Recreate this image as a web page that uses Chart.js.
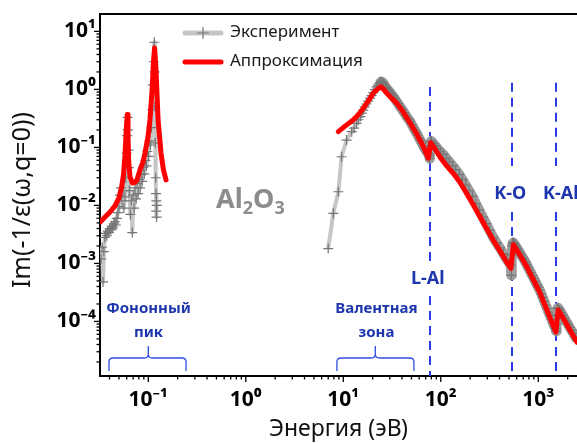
<!DOCTYPE html>
<html><head><meta charset="utf-8">
<script src="https://cdn.jsdelivr.net/npm/chart.js@4.4.0/dist/chart.umd.min.js"></script>
<style>html,body{margin:0;padding:0;background:#fff;overflow:hidden}#wrap{width:577px;height:443px}</style>
</head><body><div id="wrap"><canvas id="c" width="577" height="443"></canvas></div>
<script>
const FONT = "'Noto Sans', 'DejaVu Sans', sans-serif";

// axis ranges and tick labels
const X_MIN = 0.03196, X_MAX = 2494;
const Y_MIN = 1.146e-5, Y_MAX = 19.95;
const xTickValues = [0.1, 1, 10, 100, 1000];
const xTickLabels = ['10⁻¹', '10⁰', '10¹', '10²', '10³'];
const yTickValues = [0.0001, 0.001, 0.01, 0.1, 1, 10];
const yTickLabels = ['10⁻⁴', '10⁻³', '10⁻²', '10⁻¹', '10⁰', '10¹'];
const xTitle = 'Энергия (эВ)';
const yTitle = 'Im(-1/ε(ω,q=0))';

// Experiment (phonon region)
const expPhononE = [0.0328,0.0336,0.0343,0.0350,0.0358,0.0366,0.0375,0.0384,0.0393,0.0402,0.0412,0.0422,0.0432,0.0443,0.0454,0.0465,0.0476,0.0488,0.0500,0.0512,0.0524,0.0536,0.0549,0.0562,0.0575,0.0588,0.0600,0.0606,0.0612,0.0618,0.0624,0.0630,0.0640,0.0655,0.0670,0.0685,0.0700,0.0716,0.0732,0.0750,0.0768,0.0786,0.0805,0.0825,0.0845,0.0866,0.0888,0.0910,0.0933,0.0957,0.0980,0.1004,0.1028,0.1052,0.1077,0.1100,0.1120,0.1135,0.1150,0.1160,0.1170,0.1180,0.1190,0.1200,0.1205,0.1210,0.1215,0.1220];
const expPhononV = [0.0012,0.0019,0.00048,0.0016,0.0028,0.0033,0.0030,0.0036,0.0034,0.0040,0.0038,0.0044,0.0041,0.0048,0.0052,0.0046,0.0060,0.0075,0.0095,0.0150,0.0200,0.0120,0.0180,0.0090,0.0140,0.030,0.080,0.16,0.33,0.20,0.09,0.045,0.018,0.0070,0.0120,0.0034,0.0150,0.0090,0.0200,0.0130,0.0240,0.0160,0.028,0.020,0.034,0.026,0.045,0.035,0.060,0.048,0.085,0.070,0.13,0.11,0.22,0.45,1.2,3.0,6.5,2.0,0.50,0.12,0.030,0.016,0.008,0.012,0.0063,0.010];

// Experiment (valence + core region)
const expValenceE = [
  7.0,7.9,8.9,9.6,10.8,12.2,12.9,13.7,14.3,15.0,
  15.5,16.0,16.6,17.3,18.0,18.8,19.5,20.3,21.1,22.0,
  22.6,23.2,23.8,24.4,25.0,25.6,26.3,27.0,27.7,28.5,
  29.2,30.0,31.0,32.0,33.0,34.0,35.2,36.5,37.7,39.0,
  40.5,42.0,43.5,45.0,46.7,48.5,50.2,52.0,54.0,56.0,
  58.0,60.0,62.0,64.0,66.0,68.0,70.0,72.0,73.5,75.0,
  76.0,77.0,77.8,78.5,80,84,88,93,99,106,
  114,122,132,142,154,166,180,195,211,229,
  248,269,292,317,344,373,404,438,475,505,
  520,528,534,540,545,555,566,580,595,610,
  628,648,668,690,712,735,760,785,812,840,
  870,900,932,965,1000,1035,1072,1110,1150,1190,
  1232,1275,1320,1367,1415,1465,1500,1520,1535,1550,
  1570,1600,1650,1710,1780,1850,1930,2010,2100,2190,
  2290,2400,2500];
const expValenceV = [
  0.0018,0.0073,0.0172,0.069,0.134,0.187,0.215,0.26,0.30,0.34,
  0.39,0.44,0.50,0.56,0.63,0.70,0.78,0.88,0.99,1.11,
  1.18,1.25,1.31,1.36,1.34,1.30,1.21,1.12,1.06,1.00,
  0.95,0.90,0.84,0.78,0.73,0.68,0.62,0.57,0.52,0.48,
  0.44,0.40,0.365,0.33,0.305,0.28,0.25,0.225,0.20,0.18,
  0.162,0.145,0.131,0.118,0.107,0.097,0.090,0.084,0.079,0.075,
  0.070,0.064,0.095,0.125,0.129,0.117,0.107,0.095,0.084,0.076,
  0.065,0.0566,0.0484,0.0414,0.0344,0.0282,0.0225,0.0179,0.0143,0.0107,
  0.0083,0.0063,0.00485,0.0037,0.00283,0.00228,0.00185,0.00148,0.00117,0.00101,
  0.00093,0.00062,0.0014,0.0020,0.0022,0.0023,0.00219,0.00206,0.00191,0.0018,
  0.00166,0.00152,0.0014,0.00127,0.00117,0.00106,0.00096,0.00086,0.00077,0.00069,
  0.00061,0.00055,0.00049,0.00043,0.00039,0.000345,0.0003,0.00026,0.000222,0.000192,
  0.000167,0.000144,0.000125,0.000108,0.000094,0.000082,0.000076,0.000068,0.00009,0.00013,
  0.000168,0.000172,0.000158,0.000143,0.000128,0.000114,0.000101,0.00009,0.000079,0.00007,
  0.000062,0.000054,0.000048];

// Approximation (phonon region)
const fitPhononE = [0.0322,0.0360,0.0405,0.0455,0.0500,0.0533,0.0557,0.0577,0.0594,0.0609,0.0619,0.0628,0.0649,0.0686,0.0731,0.0766,0.0822,0.0883,0.0925,0.0993,0.104,0.109,0.113,0.116,0.120,0.126,0.135,0.143,0.152];
const fitPhononV = [0.0052,0.0063,0.0077,0.0098,0.0135,0.0208,0.034,0.074,0.20,0.37,0.16,0.060,0.031,0.0244,0.025,0.0276,0.041,0.056,0.080,0.151,0.297,0.90,2.97,5.2,2.16,0.297,0.080,0.041,0.0276];

// Approximation (valence + core region)
const fitValenceE = [8.9,10.5,12.7,14.3,16.0,18.0,20.3,22.5,24.4,26.0,27.9,31.0,35.3,41.0,48.6,57.0,66.3,74.5,78.6,88,97.6,115,134,157,184,215,252,295,345,420,480,523,556,650,760,890,1040,1240,1484,1514,1600,1800,2110,2495];
const fitValenceV = [0.187,0.235,0.30,0.37,0.47,0.63,0.86,1.02,1.11,1.0,0.86,0.72,0.575,0.41,0.26,0.165,0.103,0.065,0.12,0.092,0.069,0.048,0.0357,0.025,0.016,0.0103,0.0064,0.0040,0.0025,0.00148,0.00102,0.00082,0.0021,0.00138,0.00088,0.00052,0.00031,0.000149,0.000071,0.000066,0.000158,0.000113,0.000071,0.000044];

// Absorption edges
const edgeNames = ['L-Al', 'K-O', 'K-Al'];
const edgeE = [77, 541, 1520];
const edgeTopV = [1.1, 1.3, 1.3];

// Region braces (energy limits)
const braceNames = [['Фононный', 'пик'], ['Валентная', 'зона']];
const braceFrom = [0.0395, 8.6];
const braceTo = [0.244, 53];
const braceMid = [0.1, 21.3];

const mk = (xs, ys) => xs.map((x, i) => ({x: x, y: ys[i]}));

const EXP_LINE = '#c6c6c6', EXP_BAND = '#9e9e9e', EXP_MARK = '#767676', FIT = '#ff0000';
const BLUE_DASH = '#2a3ae4', BLUE_TXT = '#1d36ad', BLUE_BRACE = '#2f4fe0';

function drawBrace(ctx, x1, x2, xm, yBar, yEnd, yTip, r) {
  ctx.beginPath();
  ctx.moveTo(x1, yEnd);
  ctx.lineTo(x1, yBar + r);
  ctx.quadraticCurveTo(x1, yBar, x1 + r, yBar);
  ctx.lineTo(xm - r, yBar);
  ctx.quadraticCurveTo(xm, yBar, xm, yBar - r);
  ctx.lineTo(xm, yTip);
  ctx.moveTo(xm, yBar - r);
  ctx.quadraticCurveTo(xm, yBar, xm + r, yBar);
  ctx.lineTo(x2 - r, yBar);
  ctx.quadraticCurveTo(x2, yBar, x2, yBar + r);
  ctx.lineTo(x2, yEnd);
  ctx.stroke();
}

const decor = {
  id: 'decor',
  beforeDatasetsDraw(chart) {
    const {ctx, scales: {x, y}, chartArea: ca} = chart;
    ctx.save();
    ctx.strokeStyle = BLUE_DASH; ctx.lineWidth = 2; ctx.setLineDash([9, 6]);
    const gaps = [[265, 296], [166, 212], [166, 212]];
    edgeE.forEach((e, i) => {
      const px = Math.round(x.getPixelForValue(e));
      const top = y.getPixelForValue(edgeTopV[i]);
      ctx.beginPath();
      ctx.moveTo(px, top); ctx.lineTo(px, gaps[i][0]);
      ctx.moveTo(px, gaps[i][1]); ctx.lineTo(px, ca.bottom);
      ctx.stroke();
    });
    ctx.restore();
  },
  afterDraw(chart) {
    const {ctx, scales: {x, y}, chartArea: ca} = chart;
    ctx.save();
    // top frame line
    ctx.strokeStyle = '#000'; ctx.lineWidth = 2;
    ctx.beginPath(); ctx.moveTo(ca.left - 1, 14); ctx.lineTo(chart.width, 14); ctx.stroke();
    // tick marks
    ctx.lineWidth = 1.3;
    for (let d = -2; d <= 3; d++) {
      for (let m = 1; m <= 9; m++) {
        const v = m * Math.pow(10, d);
        if (v < X_MIN || v > X_MAX) continue;
        const px = x.getPixelForValue(v);
        ctx.beginPath(); ctx.moveTo(px, ca.bottom); ctx.lineTo(px, ca.bottom + (m === 1 ? 6 : 3.5)); ctx.stroke();
      }
    }
    for (let d = -5; d <= 1; d++) {
      for (let m = 1; m <= 9; m++) {
        const v = m * Math.pow(10, d);
        if (v < Y_MIN || v > Y_MAX) continue;
        const py = y.getPixelForValue(v);
        ctx.beginPath(); ctx.moveTo(ca.left, py); ctx.lineTo(ca.left - (m === 1 ? 6 : 3.5), py); ctx.stroke();
      }
    }
    // y axis title
    ctx.save();
    ctx.translate(23, 200); ctx.rotate(-Math.PI / 2);
    ctx.fillStyle = '#111'; ctx.font = '25px ' + FONT; ctx.textAlign = 'center'; ctx.textBaseline = 'middle';
    ctx.fillText(yTitle, 0, 0);
    ctx.restore();
    // braces + region labels
    ctx.strokeStyle = BLUE_BRACE; ctx.lineWidth = 1.3; ctx.setLineDash([]);
    braceFrom.forEach((f, i) => {
      const x1 = x.getPixelForValue(f), x2 = x.getPixelForValue(braceTo[i]), xm = x.getPixelForValue(braceMid[i]);
      drawBrace(ctx, x1, x2, xm, 358, 371, 346, 4);
      ctx.fillStyle = BLUE_TXT; ctx.textAlign = 'center'; ctx.textBaseline = 'alphabetic';
      ctx.font = 'bold 15px ' + FONT;
      const cx = (x1 + x2) / 2 + 1;
      ctx.fillText(braceNames[i][0], cx, 313);
      ctx.fillText(braceNames[i][1], cx, 337);
    });
    // edge labels
    ctx.font = 'bold 18px ' + FONT; ctx.fillStyle = BLUE_TXT; ctx.textBaseline = 'alphabetic';
    ctx.textAlign = 'center';
    ctx.fillText(edgeNames[0], x.getPixelForValue(edgeE[0]) - 2, 284);
    ctx.fillText(edgeNames[1], x.getPixelForValue(edgeE[1]) - 2, 199);
    ctx.textAlign = 'left';
    ctx.fillText(edgeNames[2], 543, 199);
    // Al2O3
    ctx.fillStyle = '#8c8c8c'; ctx.textAlign = 'left';
    const big = 'bold 27px ' + FONT, small = 'bold 18px ' + FONT;
    let xx = 216;
    [['Al', big, 208], ['2', small, 214], ['O', big, 208], ['3', small, 214]].forEach(p => {
      ctx.font = p[1]; ctx.fillText(p[0], xx, p[2]); xx += ctx.measureText(p[0]).width;
    });
    // legend
    ctx.lineCap = 'round';
    ctx.strokeStyle = EXP_LINE; ctx.lineWidth = 5;
    ctx.beginPath(); ctx.moveTo(185, 33); ctx.lineTo(221, 33); ctx.stroke();
    ctx.strokeStyle = EXP_MARK; ctx.lineWidth = 1.2; ctx.lineCap = 'butt';
    ctx.beginPath(); ctx.moveTo(197, 33); ctx.lineTo(209, 33); ctx.moveTo(203, 27); ctx.lineTo(203, 39); ctx.stroke();
    ctx.lineCap = 'round'; ctx.strokeStyle = FIT; ctx.lineWidth = 5;
    ctx.beginPath(); ctx.moveTo(185, 62); ctx.lineTo(221, 62); ctx.stroke();
    ctx.fillStyle = '#1a1a1a'; ctx.font = '17px ' + FONT; ctx.textBaseline = 'middle'; ctx.textAlign = 'left';
    ctx.fillText('Эксперимент', 230, 32);
    ctx.fillText('Аппроксимация', 230, 61);
    ctx.restore();
  }
};

const expStyle = {showLine: true, borderColor: EXP_LINE, borderWidth: 4, pointStyle: 'cross', pointRadius: 5,
  pointBorderColor: EXP_MARK, pointBorderWidth: 1.2, order: 1, tension: 0, borderJoinStyle: 'round'};
const fitStyle = {showLine: true, borderColor: FIT, borderWidth: 5, pointRadius: 0, order: 0, tension: 0,
  borderJoinStyle: 'round', borderCapStyle: 'round'};
// dense-marker band beyond the valence peak
const bandSegment = {
  borderWidth: c => (c.p0.parsed.x >= 23 ? 10 : 4),
  borderColor: c => (c.p0.parsed.x >= 23 ? EXP_BAND : EXP_LINE)
};

new Chart(document.getElementById('c'), {
  type: 'scatter',
  data: {datasets: [
    Object.assign({label: 'Аппроксимация', data: mk(fitPhononE, fitPhononV)}, fitStyle),
    Object.assign({label: 'Аппроксимация', data: mk(fitValenceE, fitValenceV)}, fitStyle),
    Object.assign({label: 'Эксперимент', data: mk(expPhononE, expPhononV)}, expStyle),
    Object.assign({label: 'Эксперимент', data: mk(expValenceE, expValenceV)}, expStyle, {segment: bandSegment})
  ]},
  options: {
    responsive: false, animation: false, devicePixelRatio: 1, events: [],
    layout: {autoPadding: false, padding: {top: 14, right: 0, bottom: 0, left: 0}},
    plugins: {legend: {display: false}, tooltip: {enabled: false}},
    scales: {
      x: {
        type: 'logarithmic', min: X_MIN, max: X_MAX, position: 'bottom',
        afterBuildTicks: s => { s.ticks = xTickValues.map(v => ({value: v})); },
        afterFit: s => { s.height = 67; s.paddingLeft = 0; s.paddingRight = 0; },
        grid: {drawOnChartArea: false, drawTicks: false},
        border: {display: true, color: '#000', width: 2},
        ticks: {callback: (v, i) => xTickLabels[i], font: {family: FONT, size: 21, weight: 'bold'}, color: '#000',
          padding: 11, maxRotation: 0, autoSkip: false},
        title: {display: true, text: xTitle, font: {family: FONT, size: 23}, color: '#111', padding: {top: 0, bottom: 0}}
      },
      y: {
        type: 'logarithmic', min: Y_MIN, max: Y_MAX, position: 'left',
        afterBuildTicks: s => { s.ticks = yTickValues.map(v => ({value: v})); },
        afterFit: s => { s.width = 100; s.paddingTop = 0; s.paddingBottom = 0; },
        grid: {drawOnChartArea: false, drawTicks: false},
        border: {display: true, color: '#000', width: 2},
        ticks: {callback: (v, i) => yTickLabels[i], font: {family: FONT, size: 21, weight: 'bold'}, color: '#000',
          padding: 4, autoSkip: false},
        title: {display: false}
      }
    }
  },
  plugins: [decor]
});
</script>
</body></html>
